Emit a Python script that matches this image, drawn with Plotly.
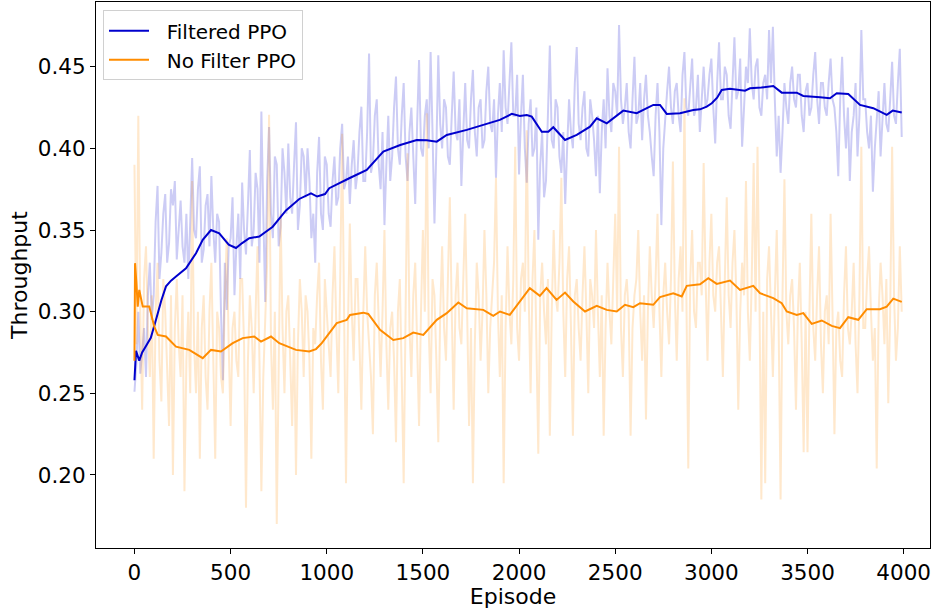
import plotly.graph_objects as go

# ---------------- data ----------------
raw_step = 10
filtered_raw = [
    0.251, 0.268, 0.300, 0.262, 0.275, 0.290, 0.260, 0.310, 0.330, 0.295,
    0.310, 0.355, 0.377, 0.320, 0.336, 0.360, 0.372, 0.330, 0.342, 0.375,
    0.365, 0.380, 0.332, 0.350, 0.368, 0.340, 0.330, 0.360, 0.320, 0.355,
    0.394, 0.350, 0.345, 0.375, 0.389, 0.330, 0.338, 0.365, 0.372, 0.340,
    0.383, 0.350, 0.330, 0.360, 0.355, 0.300, 0.258, 0.330, 0.301, 0.340,
    0.345, 0.370, 0.310, 0.340, 0.360, 0.320, 0.379, 0.350, 0.335, 0.365,
    0.399, 0.340, 0.350, 0.385, 0.375, 0.330, 0.4225, 0.360, 0.306, 0.380,
    0.413, 0.360, 0.345, 0.395, 0.390, 0.340, 0.352, 0.400, 0.385, 0.360,
    0.403, 0.370, 0.360, 0.390, 0.416, 0.350, 0.365, 0.400, 0.395, 0.370,
    0.400, 0.380, 0.345, 0.360, 0.330, 0.385, 0.407, 0.360, 0.350, 0.395,
    0.390, 0.360, 0.352, 0.380, 0.395, 0.365, 0.370, 0.400, 0.415, 0.375,
    0.380, 0.395, 0.366, 0.390, 0.405, 0.375, 0.385, 0.410, 0.4255, 0.380,
    0.380, 0.410, 0.458, 0.385, 0.392, 0.420, 0.430, 0.390, 0.375, 0.410,
    0.353, 0.390, 0.420, 0.380, 0.395, 0.425, 0.444, 0.400, 0.390, 0.420,
    0.440, 0.395, 0.380, 0.410, 0.425, 0.395, 0.366, 0.415, 0.454, 0.400,
    0.395, 0.420, 0.430, 0.400, 0.459, 0.410, 0.354, 0.400, 0.457, 0.415,
    0.400, 0.430, 0.425, 0.395, 0.390, 0.420, 0.447, 0.410, 0.405, 0.430,
    0.377, 0.410, 0.440, 0.405, 0.400, 0.430, 0.448, 0.410, 0.395, 0.425,
    0.430, 0.400, 0.405, 0.435, 0.450, 0.415, 0.410, 0.430, 0.382, 0.420,
    0.440, 0.410, 0.460, 0.425, 0.415, 0.440, 0.465, 0.420, 0.420, 0.445,
    0.384, 0.420, 0.445, 0.400, 0.379, 0.415, 0.430, 0.395, 0.400, 0.425,
    0.344, 0.390, 0.410, 0.370, 0.380, 0.420, 0.463, 0.405, 0.400, 0.430,
    0.425, 0.395, 0.385, 0.410, 0.366, 0.400, 0.430, 0.410, 0.400, 0.440,
    0.462, 0.415, 0.405, 0.425, 0.435, 0.400, 0.395, 0.430, 0.420, 0.405,
    0.383, 0.420, 0.3725, 0.410, 0.430, 0.400, 0.449, 0.420, 0.410, 0.440,
    0.435, 0.420, 0.4755, 0.430, 0.415, 0.425, 0.440, 0.410, 0.400, 0.430,
    0.456, 0.415, 0.420, 0.440, 0.405, 0.430, 0.445, 0.420, 0.410, 0.395,
    0.383, 0.420, 0.440, 0.410, 0.353, 0.400, 0.420, 0.435, 0.450, 0.425,
    0.415, 0.435, 0.440, 0.420, 0.410, 0.445, 0.459, 0.425, 0.420, 0.440,
    0.455, 0.420, 0.425, 0.445, 0.410, 0.430, 0.450, 0.425, 0.430, 0.445,
    0.455, 0.425, 0.403, 0.440, 0.465, 0.430, 0.430, 0.450, 0.445, 0.420,
    0.412, 0.440, 0.468, 0.430, 0.435, 0.455, 0.401, 0.425, 0.450, 0.440,
    0.4735, 0.440, 0.430, 0.450, 0.455, 0.425, 0.420, 0.440, 0.445, 0.430,
    0.4725, 0.440, 0.4745, 0.430, 0.395, 0.420, 0.385, 0.410, 0.440, 0.425,
    0.415, 0.440, 0.450, 0.430, 0.425, 0.445, 0.445, 0.420, 0.410, 0.435,
    0.440, 0.420, 0.425, 0.445, 0.459, 0.430, 0.415, 0.440, 0.440, 0.425,
    0.420, 0.440, 0.455, 0.430, 0.425, 0.410, 0.383, 0.430, 0.456, 0.420,
    0.400, 0.425, 0.380, 0.410, 0.420, 0.440, 0.395, 0.420, 0.4725, 0.430,
    0.430, 0.410, 0.400, 0.420, 0.3735, 0.400, 0.420, 0.435, 0.395, 0.420,
    0.440, 0.415, 0.410, 0.430, 0.453, 0.420, 0.415, 0.440, 0.461, 0.407,
]
nofilter_raw = [
    0.390, 0.280, 0.420, 0.300, 0.240, 0.320, 0.340, 0.290, 0.260, 0.310,
    0.210, 0.300, 0.330, 0.270, 0.245, 0.320, 0.300, 0.260, 0.230, 0.310,
    0.200, 0.290, 0.320, 0.280, 0.260, 0.310, 0.190, 0.270, 0.300, 0.250,
    0.380, 0.280, 0.250, 0.300, 0.210, 0.290, 0.310, 0.260, 0.240, 0.300,
    0.330, 0.270, 0.210, 0.300, 0.290, 0.260, 0.250, 0.310, 0.345, 0.280,
    0.230, 0.290, 0.300, 0.270, 0.260, 0.320, 0.320, 0.280, 0.180, 0.270,
    0.310, 0.290, 0.250, 0.300, 0.340, 0.270, 0.190, 0.260, 0.290, 0.330,
    0.4205, 0.280, 0.240, 0.300, 0.170, 0.270, 0.360, 0.290, 0.250, 0.300,
    0.310, 0.270, 0.230, 0.290, 0.200, 0.280, 0.320, 0.300, 0.260, 0.310,
    0.300, 0.270, 0.210, 0.290, 0.280, 0.310, 0.330, 0.270, 0.240, 0.320,
    0.300, 0.280, 0.260, 0.310, 0.340, 0.290, 0.250, 0.320, 0.409, 0.300,
    0.195, 0.290, 0.354, 0.300, 0.270, 0.320, 0.320, 0.280, 0.240, 0.300,
    0.340, 0.300, 0.280, 0.260, 0.225, 0.310, 0.330, 0.290, 0.260, 0.300,
    0.350, 0.280, 0.240, 0.290, 0.300, 0.270, 0.220, 0.300, 0.320, 0.260,
    0.195, 0.300, 0.397, 0.290, 0.260, 0.310, 0.330, 0.280, 0.230, 0.300,
    0.350, 0.300, 0.4215, 0.290, 0.250, 0.320, 0.310, 0.270, 0.220, 0.300,
    0.340, 0.290, 0.270, 0.320, 0.370, 0.300, 0.240, 0.310, 0.330, 0.290,
    0.280, 0.320, 0.360, 0.300, 0.230, 0.290, 0.195, 0.280, 0.330, 0.310,
    0.270, 0.300, 0.350, 0.310, 0.250, 0.290, 0.310, 0.330, 0.382, 0.300,
    0.260, 0.310, 0.195, 0.290, 0.340, 0.300, 0.280, 0.320, 0.401, 0.290,
    0.270, 0.320, 0.330, 0.300, 0.411, 0.310, 0.250, 0.320, 0.350, 0.290,
    0.213, 0.310, 0.330, 0.300, 0.280, 0.320, 0.224, 0.300, 0.350, 0.310,
    0.300, 0.330, 0.382, 0.300, 0.260, 0.320, 0.340, 0.290, 0.224, 0.310,
    0.320, 0.290, 0.270, 0.310, 0.340, 0.300, 0.250, 0.320, 0.310, 0.290,
    0.350, 0.300, 0.260, 0.310, 0.224, 0.290, 0.330, 0.300, 0.280, 0.320,
    0.360, 0.300, 0.401, 0.290, 0.260, 0.310, 0.320, 0.300, 0.224, 0.290,
    0.310, 0.320, 0.350, 0.300, 0.270, 0.310, 0.234, 0.300, 0.340, 0.310,
    0.290, 0.320, 0.360, 0.300, 0.260, 0.310, 0.330, 0.300, 0.280, 0.320,
    0.392, 0.310, 0.270, 0.320, 0.340, 0.300, 0.4307, 0.310, 0.204, 0.320,
    0.350, 0.300, 0.290, 0.330, 0.330, 0.310, 0.391, 0.320, 0.270, 0.330,
    0.360, 0.310, 0.300, 0.330, 0.340, 0.300, 0.260, 0.320, 0.370, 0.310,
    0.290, 0.330, 0.350, 0.310, 0.240, 0.300, 0.330, 0.310, 0.380, 0.300,
    0.270, 0.320, 0.391, 0.300, 0.401, 0.310, 0.185, 0.300, 0.195, 0.320,
    0.340, 0.300, 0.260, 0.310, 0.350, 0.290, 0.185, 0.310, 0.381, 0.300,
    0.280, 0.310, 0.320, 0.290, 0.240, 0.300, 0.330, 0.280, 0.214, 0.300,
    0.214, 0.300, 0.360, 0.290, 0.270, 0.310, 0.340, 0.280, 0.250, 0.300,
    0.310, 0.280, 0.360, 0.300, 0.225, 0.290, 0.300, 0.270, 0.260, 0.310,
    0.340, 0.290, 0.280, 0.300, 0.330, 0.280, 0.250, 0.310, 0.401, 0.290,
    0.290, 0.320, 0.340, 0.300, 0.270, 0.290, 0.204, 0.300, 0.330, 0.310,
    0.280, 0.320, 0.244, 0.300, 0.401, 0.310, 0.270, 0.290, 0.340, 0.300,
]
raw_episodes = [i * raw_step for i in range(len(filtered_raw))]

filtered_smooth_ep = [
    0, 8, 25, 40, 60, 85, 112, 140, 164, 190, 216, 268, 320, 355, 398, 441,
    490, 528, 560, 597, 649, 719, 788, 857, 918, 950, 991, 1013, 1117, 1208,
    1294, 1382, 1468, 1520, 1572, 1624, 1728, 1814, 1900, 1962, 2004, 2040,
    2066, 2118, 2152, 2178, 2239, 2300, 2369, 2404, 2456, 2542, 2612, 2698,
    2733, 2768, 2837, 2906, 2941, 2976, 3002, 3030, 3054, 3097, 3175, 3201,
    3260, 3322, 3366, 3444, 3478, 3565, 3617, 3652, 3712, 3773, 3842, 3912,
    3943, 3990,
]
filtered_smooth = [
    0.258, 0.276, 0.270, 0.275, 0.279, 0.284, 0.295, 0.307, 0.3155, 0.319,
    0.3215, 0.3266, 0.3358, 0.344, 0.350, 0.348, 0.341, 0.339, 0.342, 0.345,
    0.346, 0.352, 0.362, 0.369, 0.3725, 0.3705, 0.372, 0.3756, 0.3817, 0.3868,
    0.398, 0.402, 0.4051, 0.405, 0.4041, 0.4082, 0.4113, 0.4143, 0.4174,
    0.4211, 0.4198, 0.4204, 0.4194, 0.4102, 0.4102, 0.4129, 0.4051, 0.4082,
    0.4133, 0.4184, 0.4153, 0.4231, 0.4215, 0.4266, 0.4266, 0.4211, 0.4215,
    0.4235, 0.4239, 0.4255, 0.4276, 0.431, 0.4357, 0.4365, 0.4353, 0.4368,
    0.4372, 0.4382, 0.4341, 0.4341, 0.4321, 0.4313, 0.4307, 0.4337, 0.4333,
    0.4266, 0.4246, 0.4205, 0.4231, 0.4219,
]

nofilter_smooth_ep = [
    0, 3, 10, 17, 25, 35, 43, 77, 103, 121, 164, 216, 285, 355, 398, 450,
    511, 563, 623, 658, 710, 753, 840, 909, 944, 974, 1052, 1104, 1121, 1190,
    1216, 1277, 1346, 1398, 1450, 1502, 1572, 1624, 1684, 1728, 1814, 1866,
    1901, 1952, 2004, 2056, 2108, 2143, 2195, 2239, 2282, 2343, 2404, 2456,
    2508, 2551, 2594, 2629, 2698, 2733, 2802, 2846, 2872, 2941, 2984, 3028,
    3097, 3149, 3218, 3253, 3322, 3366, 3392, 3444, 3478, 3522, 3574, 3626,
    3669, 3712, 3764, 3808, 3877, 3912, 3946, 3990,
]
nofilter_smooth = [
    0.270, 0.3297, 0.318, 0.3031, 0.3133, 0.308, 0.3031, 0.3031, 0.2909,
    0.2858, 0.2848, 0.2786, 0.2766, 0.2715, 0.2766, 0.2756, 0.2807, 0.2838,
    0.2848, 0.2817, 0.2848, 0.2807, 0.2766, 0.2756, 0.2771, 0.2807, 0.2930,
    0.2950, 0.2980, 0.2994, 0.2986, 0.2889, 0.2827, 0.2838, 0.2872, 0.2858,
    0.2950, 0.2991, 0.3056, 0.3021, 0.3011, 0.2974, 0.3001, 0.2980, 0.3062,
    0.3144, 0.3097, 0.3144, 0.3072, 0.3117, 0.3062, 0.3001, 0.3036, 0.3011,
    0.3001, 0.3042, 0.3028, 0.3052, 0.3042, 0.3089, 0.3113, 0.3093, 0.3158,
    0.3168, 0.3205, 0.3170, 0.3190, 0.3133, 0.3158, 0.3113, 0.3083, 0.3052,
    0.3001, 0.2980, 0.2991, 0.2925, 0.2946, 0.2913, 0.2899, 0.2966, 0.2950,
    0.3015, 0.3015, 0.3031, 0.3080, 0.3060,
]

x_ticks = [0, 500, 1000, 1500, 2000, 2500, 3000, 3500, 4000]
y_ticks = [0.20, 0.25, 0.30, 0.35, 0.40, 0.45]
y_tick_labels = ["0.20", "0.25", "0.30", "0.35", "0.40", "0.45"]

# ---------------- figure ----------------
FONT = "DejaVu Sans"
fig = go.Figure()
fig.add_trace(go.Scatter(x=raw_episodes, y=filtered_raw, mode="lines",
                         line=dict(color="rgba(0,0,205,0.2)", width=2),
                         showlegend=False, hoverinfo="skip"))
fig.add_trace(go.Scatter(x=raw_episodes, y=nofilter_raw, mode="lines",
                         line=dict(color="rgba(255,140,0,0.2)", width=2),
                         showlegend=False, hoverinfo="skip"))
fig.add_trace(go.Scatter(x=filtered_smooth_ep, y=filtered_smooth, mode="lines",
                         name="\u00a0\u00a0Filtered PPO",
                         line=dict(color="#0000CD", width=2)))
fig.add_trace(go.Scatter(x=nofilter_smooth_ep, y=nofilter_smooth, mode="lines",
                         name="\u00a0\u00a0No Filter PPO",
                         line=dict(color="#FF8C00", width=2)))

axis_common = dict(showgrid=False, zeroline=False, showline=True, mirror=True,
                   linecolor="black", linewidth=1, ticks="outside", ticklen=5,
                   tickcolor="black", automargin=False,
                   tickfont=dict(family=FONT, size=21.5, color="black"))

fig.update_layout(
    width=932, height=609,
    margin=dict(l=96, r=2, t=2, b=61),
    paper_bgcolor="white", plot_bgcolor="white",
    font=dict(family=FONT, size=21, color="black"),
    xaxis=dict(range=[-200, 4137], tickvals=x_ticks,
               title=dict(text="Episode", font=dict(family=FONT, size=22), standoff=2),
               **axis_common),
    yaxis=dict(range=[0.1553, 0.4896], tickvals=y_ticks, ticktext=y_tick_labels,
               title=dict(text="Throughput", font=dict(family=FONT, size=22), standoff=4),
               **axis_common),
    legend=dict(x=0.0084, y=0.985, xanchor="left", yanchor="top",
                bgcolor="white", bordercolor="#d0d0d0", borderwidth=1,
                font=dict(family=FONT, size=20, color="black"),
                itemwidth=40, tracegroupgap=0),
)

fig.write_html("out.html", config={"displayModeBar": False},
               post_script="document.body.style.margin='0';document.body.style.padding='0';")
